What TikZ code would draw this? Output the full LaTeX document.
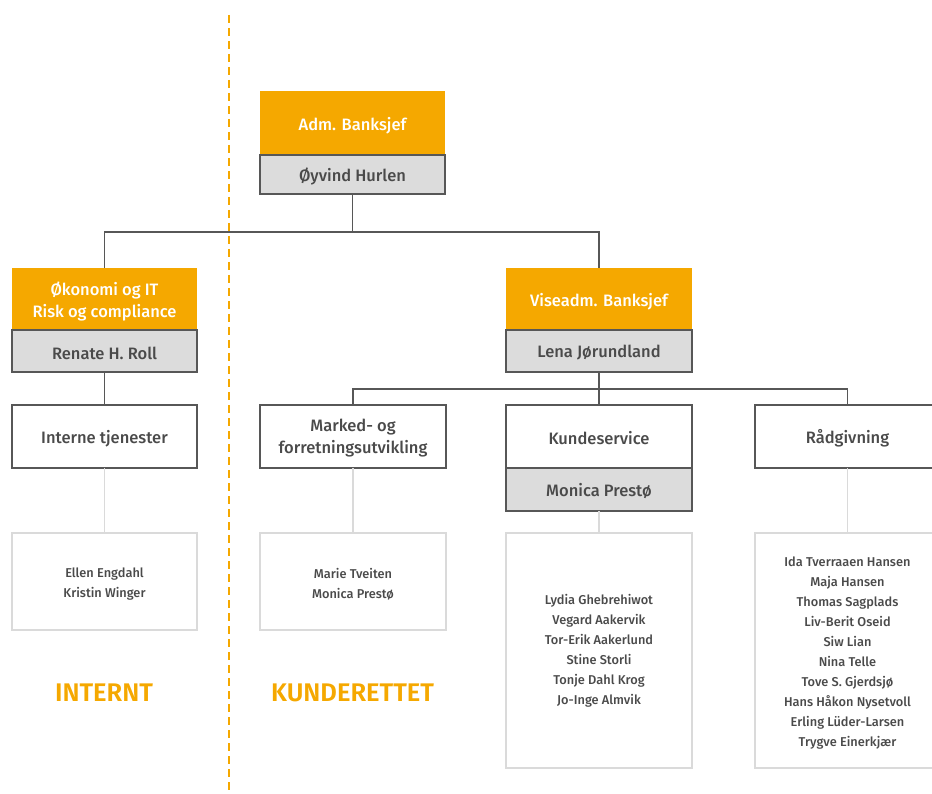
\documentclass[tikz,border=0pt]{standalone}
\usepackage{fontspec}
\setmainfont{Fira Sans}[UprightFont={* Medium}, BoldFont={* SemiBold}]
\definecolor{sbOrange}{HTML}{F5A800}
\definecolor{sbGrayFill}{HTML}{DCDCDC}
\definecolor{sbDark}{HTML}{575757}
\definecolor{sbText}{HTML}{4A4A4A}
\definecolor{sbLight}{HTML}{DADADA}
\tikzset{
  box/.style={rectangle, inner sep=0pt, outer sep=0pt},
  orangebox/.style={box, fill=sbOrange},
  namebox/.style={box, fill=sbGrayFill, draw=sbDark, line width=1.6pt},
  unitbox/.style={box, fill=white, draw=sbDark, line width=1.6pt},
  listbox/.style={box, fill=white, draw=sbLight, line width=1.6pt},
  txt/.style={inner sep=0pt, align=center, yshift=-3pt},
  wtxt/.style={txt, text=white, font=\fontsize{16.5}{22}\selectfont},
  gtxt/.style={txt, yshift=1pt, text=sbText, font=\fontsize{16.5}{22}\selectfont},
  ltxt/.style={txt, text=sbText, font=\fontsize{12.8}{20}\selectfont},
  darkline/.style={draw=sbDark, line width=1.8pt},
  lightline/.style={draw=sbLight, line width=1.8pt},
  zonelabel/.style={text=sbOrange, font=\bfseries\fontsize{25.5}{28}\selectfont},
}
\begin{document}
\begin{tikzpicture}[x=1pt,y=-1pt]
\useasboundingbox (0,0) rectangle (932,794);
\begin{scope}
\clip (0,0) rectangle (932,794);
% dashed divider
\coordinate (dtop) at (229,15);
\coordinate (dbot) at (229,794);
\draw[sbOrange, line width=1.8pt, dash pattern=on 8pt off 5pt] (dtop) -- (dbot);

% top
\node[orangebox, minimum width=185, minimum height=64] (admT) at (352.5,123) {};
\node[namebox, minimum width=185, minimum height=39] (admB) at (352.5,174.5) {};
\node[wtxt] (admTt) at (admT.center) {Adm. Banksjef};
\node[gtxt] (admBt) at (admB.center) {Øyvind Hurlen};

% level 2
\node[orangebox, minimum width=185, minimum height=62] (okoT) at (104.5,299) {};
\node[namebox, minimum width=185, minimum height=42] (okoB) at (104.5,351) {};
\node[wtxt] (okoTt) at (okoT.center) {Økonomi og IT\\Risk og compliance};
\node[gtxt] (okoBt) at (okoB.center) {Renate H. Roll};
\node[orangebox, minimum width=186, minimum height=62] (visT) at (599,299) {};
\node[namebox, minimum width=186, minimum height=42] (visB) at (599,351) {};
\node[wtxt] (visTt) at (visT.center) {Viseadm. Banksjef};
\node[gtxt] (visBt) at (visB.center) {Lena Jørundland};

% level 3
\node[unitbox, minimum width=185, minimum height=63] (int) at (104.5,436.5) {};
\node[gtxt] (intt) at (int.center) {Interne tjenester};
\node[unitbox, minimum width=186, minimum height=63] (mar) at (353,436.5) {};
\node[gtxt] (mart) at (mar.center) {Marked- og\\forretningsutvikling};
\node[unitbox, minimum width=186, minimum height=63] (kun) at (599,436.5) {};
\node[gtxt] (kunt) at (kun.center) {Kundeservice};
\node[namebox, minimum width=186, minimum height=43] (kunB) at (599,489.5) {};
\node[gtxt] (kunBt) at (kunB.center) {Monica Prestø};
\node[unitbox, minimum width=185, minimum height=63] (rad) at (847.5,436.5) {};
\node[gtxt] (radt) at (rad.center) {Rådgivning};

% lists
\node[listbox, minimum width=185, minimum height=97] (l1) at (104.5,581.5) {};
\node[ltxt] (l1t) at (l1.center) {Ellen Engdahl\\Kristin Winger};
\node[listbox, minimum width=186, minimum height=97] (l2) at (353,581.5) {};
\node[ltxt] (l2t) at (l2.center) {Marie Tveiten\\Monica Prestø};
\node[listbox, minimum width=186, minimum height=235] (l3) at (599,650.5) {};
\node[ltxt, yshift=3pt] (l3t) at (l3.center) {Lydia Ghebrehiwot\\Vegard Aakervik\\Tor-Erik Aakerlund\\Stine Storli\\Tonje Dahl Krog\\Jo-Inge Almvik};
\node[listbox, minimum width=185, minimum height=235] (l4) at (847.5,650.5) {};
\node[ltxt] (l4t) at (l4.center) {Ida Tverraaen Hansen\\Maja Hansen\\Thomas Sagplads\\Liv-Berit Oseid\\Siw Lian\\Nina Telle\\Tove S. Gjerdsjø\\Hans Håkon Nysetvoll\\Erling Lüder-Larsen\\Trygve Einerkjær};

% zone labels
\node[zonelabel] (intl) at (104,692.5) {INTERNT};
\node[zonelabel] (kunl) at (352.5,692.5) {KUNDERETTET};

% dark connectors
\draw[darkline] (admB.south) -- ++(0,38) -| (okoT.north);
\draw[darkline] (admB.south) -- ++(0,38) -| (visT.north);
\draw[darkline] (okoB.south) -- (int.north);
\draw[darkline] (visB.south) -- ++(0,17) -| (mar.north);
\draw[darkline] (visB.south) -- (kun.north);
\draw[darkline] (visB.south) -- ++(0,17) -| (rad.north);

% light connectors
\draw[lightline] (int.south) -- (l1.north);
\draw[lightline] (mar.south) -- (l2.north);
\draw[lightline] (kunB.south) -- (l3.north);
\draw[lightline] (rad.south) -- (l4.north);
\end{scope}
\end{tikzpicture}
\end{document}
